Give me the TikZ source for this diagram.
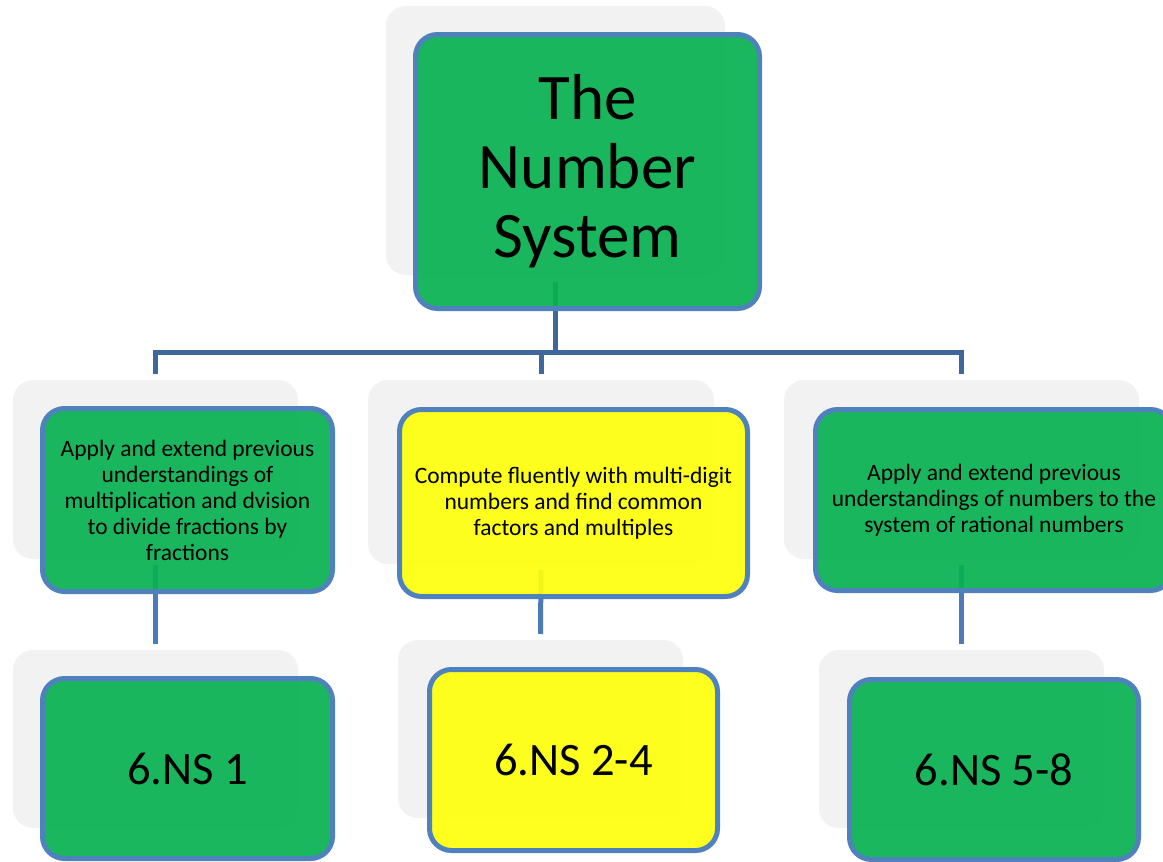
\documentclass[tikz,border=0pt]{standalone}
\usepackage{fontspec}
\setmainfont{Carlito}
\definecolor{shadowgray}{HTML}{F2F2F2}
\definecolor{boxgreen}{HTML}{07B151}
\definecolor{boxyellow}{HTML}{FFFF0C}
\definecolor{boxborder}{HTML}{4F81BD}
\definecolor{busblue}{HTML}{3F679B}
\definecolor{dropblue}{HTML}{4C7CB8}
\begin{document}
\begin{tikzpicture}[x=1pt,y=-1pt,
  shadowbox/.style={fill=shadowgray, draw=none, rounded corners=20pt, inner sep=0pt, outer sep=0pt},
  colorbox/.style={draw=boxborder, line width=5pt, rounded corners=22pt, inner sep=0pt, outer sep=0pt, fill opacity=0.92, text opacity=1, align=center, text=black},
  greenbox/.style={colorbox, fill=boxgreen},
  yellowbox/.style={colorbox, fill=boxyellow},
  bigtext/.style={font=\fontsize{65}{69}\selectfont},
  midtext/.style={font=\fontsize{23.5}{26}\selectfont},
  bottext/.style={font=\fontsize{46.5}{50}\selectfont},
  busline/.style={draw=busblue, line width=5pt},
  dropline/.style={draw=dropblue, line width=5pt}]
\useasboundingbox (0,0) rectangle (1163,862);
\fill[white] (0,0) rectangle (1163,862);
% shadow boxes
\node[shadowbox, minimum width=339pt, minimum height=269pt] (topg) at (555.5,140.5) {};
\node[shadowbox, minimum width=285pt, minimum height=179pt] (lg) at (155.5,469.5) {};
\node[shadowbox, minimum width=346pt, minimum height=184pt] (mg) at (541,472) {};
\node[shadowbox, minimum width=355pt, minimum height=179pt] (rg) at (961.5,469.5) {};
\node[shadowbox, minimum width=285pt, minimum height=178pt] (lbg) at (155.5,739) {};
\node[shadowbox, minimum width=285pt, minimum height=178pt] (mbg) at (540.5,729) {};
\node[shadowbox, minimum width=285pt, minimum height=178pt] (rbg) at (961.5,739) {};
% connectors
\coordinate (bus) at (0,352);
\draw[busline] ([yshift=-7pt]topg.south) -- (topg.south |- bus);
\draw[busline] ([yshift=6pt]lg.north) |- (rg.north |- bus) -- ([yshift=6pt]rg.north);
\draw[busline] ([yshift=6pt]mg.north) -- (mg.north |- bus);
\draw[dropline] ([yshift=-6pt]lg.south) -- ([yshift=6pt]lbg.north);
\draw[dropline] ([yshift=-6pt]mg.south) -- ([yshift=6pt]mbg.north);
\draw[dropline] ([yshift=-6pt]rg.south) -- ([yshift=6pt]rbg.north);
% colored boxes
\node[greenbox, bigtext, minimum width=344pt, minimum height=274pt] (top) at (587.5,171.5) {The\\Number\\System};
\node[greenbox, midtext, minimum width=290pt, minimum height=183pt] (l) at (187.5,500) {Apply and extend previous\\understandings of\\multiplication and dvision\\to divide fractions by\\fractions};
\node[yellowbox, midtext, minimum width=348pt, minimum height=187pt] (m) at (573.5,503) {Compute fluently with multi-digit\\numbers and find common\\factors and multiples};
\node[greenbox, midtext, minimum width=357pt, minimum height=181pt] (r) at (994,500) {Apply and extend previous\\understandings of numbers to the\\system of rational numbers};
\node[greenbox, bottext, minimum width=290pt, minimum height=180pt] (lb) at (187.5,768.5) {6.NS 1};
\node[yellowbox, bottext, minimum width=288pt, minimum height=181pt] (mb) at (573.5,760) {6.NS 2-4};
\node[greenbox, bottext, minimum width=289pt, minimum height=180pt] (rb) at (994,769.5) {6.NS 5-8};
\end{tikzpicture}
\end{document}
